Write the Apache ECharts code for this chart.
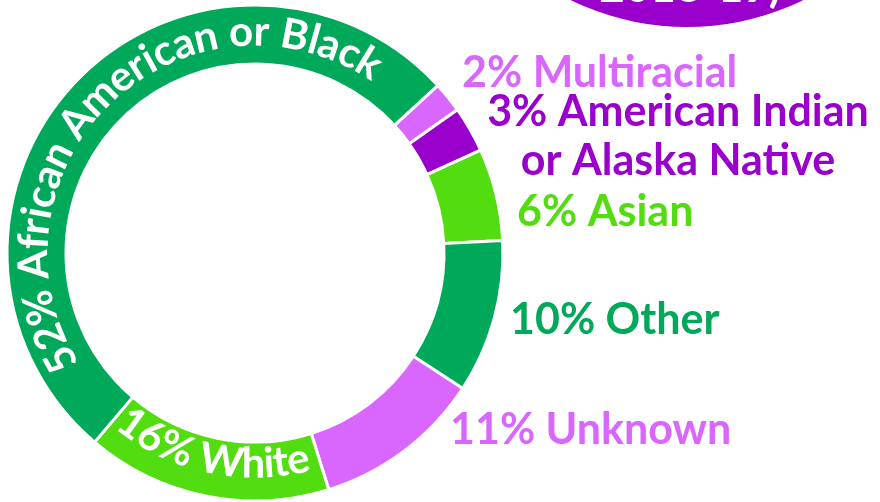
<!DOCTYPE html>
<html>
<head>
<meta charset="utf-8">
<script src="https://cdn.jsdelivr.net/npm/echarts@6/dist/echarts.min.js"></script>
<style>
  html, body { margin: 0; padding: 0; background: #fff; }
  #donut { width: 880px; height: 502px; }
</style>
</head>
<body>
<div id="donut"></div>
<script>
// data
var categories = ['Multiracial', 'American Indian\nor Alaska Native', 'Asian', 'Other', 'Unknown', 'White', 'African American or Black'];
var shares = [2, 3, 6, 10, 11, 16, 52];
var colors = ['#D966FF', '#9900CC', '#52DD10', '#00A859', '#D966FF', '#52DD10', '#00A859'];

// where the outside labels sit (x, y, align); null = written along the ring
var labelSpots = [[462, 73, 'left'], [678, 137, 'center'], [517, 212, 'left'], [510, 320, 'left'], [450, 430, 'left'], null, null];
// ring-text for the two big slices: mid angle (deg, clockwise from top), span, radius, inward
var ringText = { 5: [192, 47.5, 211, true], 6: [316.2, 149.8, 221, false] };

var cx = 255, cy = 253;
var FONT = 'Lato, "Open Sans", sans-serif';

var chartDom = document.getElementById('donut');
var myChart = echarts.init(chartDom);

var measure = document.createElement('canvas').getContext('2d');

function curvedText(text, mid, span, r, inward, color) {
  var font = 'bold 42px ' + FONT;
  measure.font = font;
  var chars = text.split('');
  var centers = chars.map(function (ch, i) {
    return measure.measureText(text.slice(0, i)).width + measure.measureText(ch).width / 2;
  });
  var n = chars.length;
  var natural = centers[n - 1] - centers[0];
  var gap = (span * Math.PI / 180 * r - natural) / (n - 1);
  var start = (inward ? mid + span / 2 : mid - span / 2) * Math.PI / 180;
  var els = [];
  chars.forEach(function (ch, i) {
    if (ch === ' ') return;
    var p = centers[i] - centers[0] + i * gap;
    var t = inward ? start - p / r : start + p / r;
    els.push({
      type: 'text',
      x: cx + r * Math.sin(t),
      y: cy - r * Math.cos(t),
      rotation: inward ? -(t - Math.PI) : -t,
      z: 100,
      silent: true,
      style: {
        text: ch, font: font, fill: color,
        align: 'center', verticalAlign: 'middle',
        textAlign: 'center', textVerticalAlign: 'middle'
      }
    });
  });
  return els;
}

var graphics = [
  { type: 'circle', shape: { cx: 687, cy: -238, r: 265 }, style: { fill: '#9900CC' }, z: 1 },
  {
    type: 'text', x: 690, y: 10, z: 2,
    style: { text: '2018-19)', font: 'bold 44px ' + FONT, fill: '#fff', align: 'center', verticalAlign: 'bottom', textAlign: 'center', textVerticalAlign: 'bottom' }
  }
];
Object.keys(ringText).forEach(function (k) {
  var i = +k, a = ringText[k];
  graphics = graphics.concat(curvedText(shares[i] + '% ' + categories[i], a[0], a[1], a[2], a[3], '#fff'));
});

var option = {
  animation: false,
  backgroundColor: '#fff',
  graphic: graphics,
  series: [
    {
      type: 'pie',
      center: [cx, cy],
      radius: [189, 248],
      startAngle: 42.5,
      clockwise: true,
      avoidLabelOverlap: false,
      emphasis: { disabled: true },
      itemStyle: { borderColor: '#fff', borderWidth: 3 },
      labelLine: { show: false },
      label: {
        position: 'outside',
        formatter: function (p) { return p.value + '% ' + p.name; },
        fontFamily: FONT,
        fontWeight: 'bold',
        fontSize: 43,
        lineHeight: 49
      },
      labelLayout: function (params) {
        var s = labelSpots[params.dataIndex];
        if (!s) return {};
        return { x: s[0], y: s[1], align: s[2], verticalAlign: 'middle' };
      },
      data: categories.map(function (name, i) {
        return {
          name: name,
          value: shares[i],
          itemStyle: { color: colors[i] },
          label: { show: !!labelSpots[i], color: colors[i] }
        };
      })
    }
  ]
};

option && myChart.setOption(option);
</script>
</body>
</html>
